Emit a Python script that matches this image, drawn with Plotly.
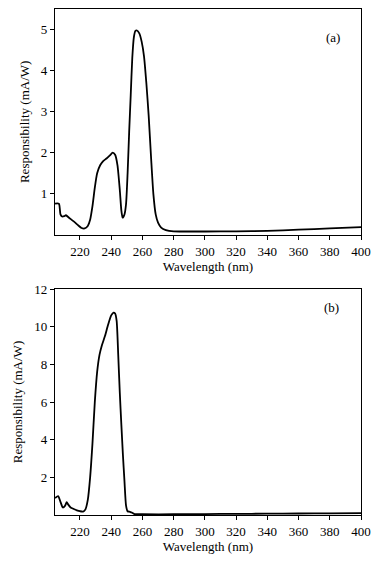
import plotly.graph_objects as go

# Panel (a)
wl_a = [204, 206.5, 207.5, 208.5, 210, 211, 213, 216, 219, 221, 223, 225, 226.5, 228, 229.5,
        231, 233, 235, 237, 239, 241, 242.5, 244, 245.5, 246.5, 247.3, 248.5, 249.5, 250.5,
        251.5, 252.5, 253.5, 254.5, 255.5, 256.5, 258, 259.5, 261, 262.5, 264, 265.5, 267,
        268.5, 270, 272, 275, 280, 300, 320, 340, 360, 380, 400]
resp_a = [0.76, 0.76, 0.5, 0.45, 0.46, 0.48, 0.42, 0.33, 0.23, 0.17, 0.16, 0.22, 0.37, 0.7, 1.15,
          1.5, 1.7, 1.8, 1.86, 1.93, 2.0, 1.95, 1.7, 1.1, 0.6, 0.42, 0.5, 0.75, 1.5,
          2.5, 3.4, 4.3, 4.8, 4.96, 4.97, 4.9, 4.7, 4.35, 3.7, 2.9, 1.9, 1.0,
          0.5, 0.3, 0.18, 0.12, 0.09, 0.085, 0.09, 0.1, 0.13, 0.16, 0.19]

# Panel (b)
wl_b = [204, 206, 207.5, 209, 210.5, 211.5, 212.5, 214, 216, 218, 220, 222, 223.5, 225, 226.5,
        228, 229.5, 231, 232.5, 234, 236, 238, 240, 241.5, 242.5, 243.5, 244.5, 245.5, 246.5,
        247.5, 248.5, 249.5, 250.5, 252, 253.5, 255, 260, 280, 300, 320, 340, 360, 380, 400]
resp_b = [0.9, 1.0, 0.7, 0.4, 0.5, 0.68, 0.55, 0.4, 0.32, 0.25, 0.2, 0.18, 0.3, 0.8, 2.0,
          3.8, 6.0, 7.6, 8.5, 9.0, 9.5, 10.1, 10.6, 10.75, 10.7, 10.3, 8.5, 6.5, 4.8,
          3.2, 1.8, 0.5, 0.2, 0.17, 0.12, 0.05, 0.04, 0.04, 0.05, 0.06, 0.07, 0.08, 0.09, 0.1]

x_ticks = [220, 240, 260, 280, 300, 320, 340, 360, 380, 400]
y_ticks_a = [1, 2, 3, 4, 5]
y_ticks_b = [2, 4, 6, 8, 10, 12]

FONT = "Liberation Serif"
W, H = 382, 563

fig = go.Figure()
fig.add_trace(go.Scatter(x=wl_a, y=resp_a, mode="lines", xaxis="x", yaxis="y",
                         line=dict(color="black", width=1.8, shape="spline", smoothing=0.6),
                         showlegend=False))
fig.add_trace(go.Scatter(x=wl_b, y=resp_b, mode="lines", xaxis="x2", yaxis="y2",
                         line=dict(color="black", width=1.8, shape="spline", smoothing=0.6),
                         showlegend=False))

xd = [55 / W, 361 / W]
ya = [1 - 235 / H, 1 - 8.7 / H]
yb = [1 - 515 / H, 1 - 289 / H]

common_x = dict(range=[204, 400], tickvals=x_ticks, ticks="outside", ticklen=4, tickwidth=1,
                tickcolor="black", showline=True, linecolor="black", linewidth=1.3, mirror=True,
                showgrid=False, zeroline=False, automargin=False,
                tickfont=dict(family=FONT, size=13, color="black"),
                title=dict(text="Wavelength (nm)", font=dict(family=FONT, size=13, color="black"),
                           standoff=4))
common_y = dict(ticks="outside", ticklen=4, tickwidth=1, tickcolor="black", showline=True,
                linecolor="black", linewidth=1.3, mirror=True, showgrid=False, zeroline=False,
                automargin=False,
                tickfont=dict(family=FONT, size=13, color="black"),
                title=dict(text="Responsibility (mA/W)", font=dict(family=FONT, size=13, color="black"),
                           standoff=8))

fig.update_layout(
    width=W, height=H, margin=dict(l=0, r=0, t=0, b=0),
    paper_bgcolor="white", plot_bgcolor="white",
    xaxis=dict(domain=xd, anchor="y", **common_x),
    yaxis=dict(domain=ya, anchor="x", range=[0, 5.5], tickvals=y_ticks_a, **common_y),
    xaxis2=dict(domain=xd, anchor="y2", **common_x),
    yaxis2=dict(domain=yb, anchor="x2", range=[0, 12], tickvals=y_ticks_b, **common_y),
    annotations=[
        dict(text="(a)", x=342 / W, y=1 - 28 / H, xref="paper", yref="paper", showarrow=False,
             font=dict(family=FONT, size=13, color="black")),
        dict(text="(b)", x=341 / W, y=1 - 307 / H, xref="paper", yref="paper", showarrow=False,
             font=dict(family=FONT, size=13, color="black")),
    ],
)

fig.write_html("out.html", config={"displayModeBar": False},
               post_script="document.body.style.margin='0';document.body.style.overflow='hidden';")
